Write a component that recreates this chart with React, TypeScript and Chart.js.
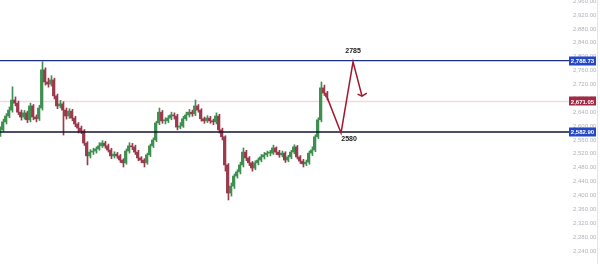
import React, { useEffect, useRef } from "react";
import { Chart, registerables } from "chart.js";

Chart.register(...registerables);

// Candle closes (index = bar number)
const closes = [
  2589, 2612, 2629, 2646, 2675, 2666, 2640, 2626, 2638, 2618,
  2658, 2626, 2621, 2652, 2762, 2727, 2721, 2733, 2687, 2658,
  2664, 2646, 2629, 2643, 2623, 2606, 2594, 2586, 2551, 2514,
  2525, 2528, 2534, 2543, 2551, 2543, 2531, 2514, 2519, 2514,
  2502, 2494, 2528, 2543, 2540, 2525, 2508, 2502, 2494, 2517,
  2543, 2560, 2609, 2640, 2615, 2615, 2623, 2632, 2629, 2597,
  2600, 2621, 2632, 2640, 2635, 2658, 2646, 2621, 2615, 2623,
  2615, 2612, 2629, 2589, 2569, 2488, 2407, 2427, 2456, 2468,
  2488, 2525, 2508, 2494, 2479, 2494, 2502, 2511, 2517, 2522,
  2522, 2537, 2525, 2517, 2522, 2502, 2511, 2525, 2540, 2511,
  2499, 2491, 2496, 2522, 2531, 2569, 2618, 2710, 2695, 2684,
];

const highs = [
  2598, 2620, 2636, 2655, 2713, 2684, 2672, 2646, 2645, 2643,
  2666, 2662, 2632, 2660, 2785, 2768, 2738, 2745, 2738, 2692,
  2674, 2670, 2652, 2650, 2648, 2628, 2610, 2600, 2590, 2555,
  2532, 2536, 2540, 2552, 2558, 2556, 2548, 2536, 2526, 2524,
  2518, 2506, 2534, 2552, 2550, 2545, 2530, 2512, 2506, 2522,
  2548, 2566, 2614, 2652, 2645, 2624, 2630, 2640, 2638, 2634,
  2610, 2628, 2640, 2648, 2646, 2675, 2662, 2650, 2626, 2630,
  2628, 2620, 2638, 2634, 2594, 2572, 2492, 2436, 2462, 2474,
  2496, 2537, 2530, 2512, 2498, 2500, 2508, 2518, 2524, 2528,
  2530, 2545, 2540, 2530, 2528, 2526, 2516, 2530, 2546, 2544,
  2515, 2504, 2502, 2528, 2540, 2575, 2624, 2727, 2718, 2700,
];

const lows = [
  2570, 2584, 2606, 2624, 2640, 2658, 2633, 2617, 2620, 2610,
  2612, 2618, 2612, 2616, 2646, 2718, 2712, 2715, 2678, 2650,
  2652, 2574, 2620, 2622, 2615, 2598, 2580, 2578, 2544, 2488,
  2508, 2518, 2522, 2530, 2538, 2536, 2525, 2506, 2508, 2507,
  2495, 2482, 2490, 2522, 2532, 2518, 2500, 2494, 2482, 2490,
  2512, 2538, 2555, 2604, 2608, 2606, 2610, 2618, 2620, 2589,
  2592, 2596, 2616, 2626, 2628, 2630, 2640, 2614, 2608, 2610,
  2608, 2604, 2606, 2580, 2560, 2470, 2387, 2398, 2420, 2450,
  2462, 2482, 2500, 2486, 2470, 2474, 2488, 2497, 2505, 2512,
  2514, 2518, 2518, 2510, 2511, 2495, 2497, 2506, 2520, 2505,
  2492, 2482, 2486, 2490, 2515, 2526, 2564, 2612, 2688, 2675,
];

const firstOpen = 2580;

// Horizontal levels with their axis tags
const resistance = 2788.73;
const lastPrice = 2671.05;
const support = 2582.9;

// Projected path: from last bar down to 2580, up to 2785, then pulling back
const pathX = [109, 113.7, 117.7, 120.7];
const pathY = [2684, 2580, 2785, 2686];
const headX = [119.2, 120.7, 122.3];
const headY = [2692, 2686, 2695];

const targetHigh = 2785;
const targetLow = 2580;

const axisTicks = [
  2240, 2280, 2320, 2360, 2400, 2440, 2480, 2520, 2560, 2600, 2640, 2680,
  2720, 2760, 2800, 2840, 2880, 2920, 2960,
];

const X_MAX = 189.7;
const Y_MIN = 2202.5;
const Y_MAX = 2963.2;

const UP = "#3f8f50";
const DOWN = "#9a3a4c";
const FONT = "'Liberation Sans', Arial, sans-serif";

const fmt = (v: number) =>
  v.toLocaleString("en-US", { minimumFractionDigits: 2, maximumFractionDigits: 2 });

export default function App() {
  const ref = useRef<HTMLCanvasElement | null>(null);

  useEffect(() => {
    if (!ref.current) return;
    const opens = closes.map((c, i) => (i === 0 ? firstOpen : closes[i - 1]));
    const colors = closes.map((c, i) => (c >= opens[i] ? UP : DOWN));

    const tagPlugin = {
      id: "tags",
      afterDatasetsDraw(chart: any) {
        const { ctx, chartArea, scales } = chart;
        const ys = scales.y;
        const xs = scales.x;
        ctx.save();
        // right border
        ctx.strokeStyle = "#e6e6e9";
        ctx.lineWidth = 1;
        ctx.beginPath();
        ctx.moveTo(chart.width - 2.5, 0);
        ctx.lineTo(chart.width - 2.5, chart.height);
        ctx.stroke();

        const tags: [number, string][] = [
          [resistance, "#2447c4"],
          [lastPrice, "#a32a45"],
          [support, "#2447c4"],
        ];
        ctx.font = `bold 6px ${FONT}`;
        ctx.textAlign = "center";
        ctx.textBaseline = "middle";
        for (const [v, c] of tags) {
          const y = ys.getPixelForValue(v);
          ctx.fillStyle = c;
          ctx.fillRect(chartArea.right, Math.round(y) - 4.5, 27, 9);
          ctx.fillStyle = "#ffffff";
          ctx.fillText(fmt(v), chartArea.right + 13.5, y + 0.5);
        }

        ctx.fillStyle = "#1a1a1a";
        ctx.font = `bold 7px ${FONT}`;
        ctx.fillText(
          String(targetHigh),
          xs.getPixelForValue(pathX[2]),
          ys.getPixelForValue(targetHigh) - 11
        );
        ctx.fillText(
          String(targetLow),
          xs.getPixelForValue(pathX[1]) + 8,
          ys.getPixelForValue(targetLow) + 6
        );
        ctx.restore();
      },
    };

    const hline = (v: number, color: string, width: number, order: number) => ({
      type: "line" as const,
      data: [
        { x: 0, y: v },
        { x: X_MAX, y: v },
      ],
      borderColor: color,
      borderWidth: width,
      pointRadius: 0,
      order,
    });

    const chart = new Chart(ref.current, {
      type: "bar",
      data: {
        datasets: [
          hline(lastPrice, "#f3d9dd", 1.5, 10),
          {
            type: "bar",
            data: closes.map((_, i) => ({ x: i, y: [lows[i], highs[i]] })),
            backgroundColor: colors,
            barThickness: 1,
            order: 5,
          } as any,
          {
            type: "bar",
            data: closes.map((c, i) => ({ x: i, y: [opens[i], c] })),
            backgroundColor: colors,
            barThickness: 1.6,
            minBarLength: 1,
            order: 4,
          } as any,
          hline(resistance, "#1f2f86", 1.3, 2),
          hline(support, "#121436", 1.3, 2),
          {
            type: "line",
            data: pathX.map((x, i) => ({ x, y: pathY[i] })),
            borderColor: "#a3182f",
            borderWidth: 1.5,
            pointRadius: 0,
            order: 1,
          },
          {
            type: "line",
            data: headX.map((x, i) => ({ x, y: headY[i] })),
            borderColor: "#a3182f",
            borderWidth: 1.5,
            pointRadius: 0,
            order: 1,
          },
        ],
      },
      options: {
        animation: false,
        responsive: true,
        maintainAspectRatio: false,
        layout: { padding: 0 },
        plugins: { legend: { display: false }, tooltip: { enabled: false } },
        scales: {
          x: {
            type: "linear",
            min: 0,
            max: X_MAX,
            offset: false,
            display: false,
          },
          y: {
            position: "right",
            min: Y_MIN,
            max: Y_MAX,
            grid: { display: false, drawTicks: false },
            border: { display: false },
            afterBuildTicks: (s: any) => {
              s.ticks = axisTicks.map((v) => ({ value: v }));
            },
            afterFit: (s: any) => {
              s.width = 31;
              s.paddingTop = 0;
              s.paddingBottom = 0;
            },
            ticks: {
              padding: 4,
              color: "#b0b3ba",
              font: { size: 6, family: FONT },
              callback: (v: any) => fmt(Number(v)),
            },
          },
        },
      },
      plugins: [tagPlugin],
    } as any);

    return () => chart.destroy();
  }, []);

  return (
    <div style={{ position: "fixed", left: 0, top: 0, width: 600, height: 264, background: "#fff" }}>
      <canvas ref={ref} />
    </div>
  );
}
